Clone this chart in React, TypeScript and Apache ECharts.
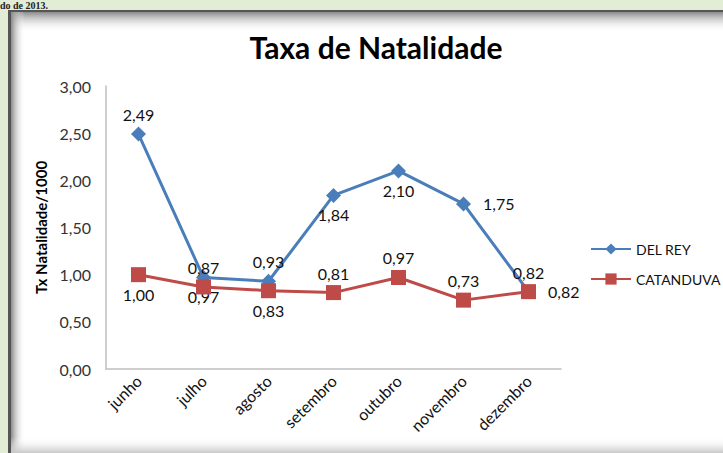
import React, { useEffect, useRef } from "react";
import * as echarts from "echarts";

const categories = ["junho", "julho", "agosto", "setembro", "outubro", "novembro", "dezembro"];
const delReyValues = [2.49, 0.97, 0.93, 1.84, 2.1, 1.75, 0.82];
const catanduvaValues = [1.0, 0.87, 0.83, 0.81, 0.97, 0.73, 0.82];
const yTicks = [0, 0.5, 1, 1.5, 2, 2.5, 3];

// label placement (style only)
const delReyLabelPos = ["top", "bottom", "top", "bottom", "bottom", "right", "top"];
const catanduvaLabelPos = ["bottom", "top", "bottom", "top", "top", "top", "right"];

const FONT = "Lato, 'Open Sans', sans-serif";
const fmt = (v: number) => v.toFixed(2).replace(".", ",");

export default function App() {
  const ref = useRef<HTMLDivElement>(null);
  useEffect(() => {
    if (!ref.current) return;
    const chart = echarts.init(ref.current, undefined, { renderer: "svg" });
    const W = 723, H = 453;
    const mkData = (vals: number[], pos: string[]) =>
      vals.map((v, i) => ({
        value: v,
        label: { position: pos[i], distance: pos[i] === "right" ? 12 : 4 },
      }));
    chart.setOption({
      animation: false,
      backgroundColor: "#e3ecd5",
      graphic: [
        { type: "text", left: 0, top: 0, z: -6, style: { text: "do de 2013.", fontSize: 10, fontWeight: "bold", fontFamily: "'Liberation Serif', serif", fill: "#222" } },
        { type: "rect", shape: { x: 8, y: 10, width: W - 8, height: H - 10 }, z: -5, style: { fill: "#555" } },
        { type: "rect", shape: { x: 11, y: 12, width: W - 11, height: H - 12 }, z: -5, style: { fill: "#fff" } },
        {
          type: "rect", shape: { x: 11, y: 12, width: W - 11, height: 20 }, z: -4,
          style: { fill: new echarts.graphic.LinearGradient(0, 0, 0, 1, [{ offset: 0, color: "#8a8a8a" }, { offset: 1, color: "rgba(255,255,255,0)" }]) },
        },
        {
          type: "rect", shape: { x: 11, y: 12, width: 14, height: H - 12 }, z: -4,
          style: { fill: new echarts.graphic.LinearGradient(0, 0, 1, 0, [{ offset: 0, color: "#8a8a8a" }, { offset: 1, color: "rgba(255,255,255,0)" }]) },
        },
        {
          type: "rect", shape: { x: 11, y: H - 16, width: W - 11, height: 16 }, z: -4,
          style: { fill: new echarts.graphic.LinearGradient(0, 0, 0, 1, [{ offset: 0, color: "rgba(255,255,255,0)" }, { offset: 1, color: "#c8c8c8" }]) },
        },
      ],
      title: {
        text: "Taxa de Natalidade",
        left: 371,
        textAlign: "center",
        top: 27,
        textStyle: { fontFamily: FONT, fontWeight: "bold", fontSize: 30, color: "#000" },
      },
      legend: {
        orient: "vertical",
        left: 585,
        top: 237,
        itemGap: 16,
        itemWidth: 40,
        itemHeight: 14,
        itemTextGap: 4,
        textStyle: { fontFamily: FONT, fontSize: 14, color: "#111" },
        data: ["DEL REY", "CATANDUVA"],
      },
      grid: { left: 106, right: 162, top: 86, bottom: 84, containLabel: false },
      xAxis: {
        type: "category",
        data: categories,
        boundaryGap: true,
        axisLine: { lineStyle: { color: "#bfbfbf", width: 1.5 } },
        axisTick: { show: false },
        axisLabel: { rotate: 45, fontFamily: FONT, fontSize: 16, color: "#111", margin: 9 },
      },
      yAxis: {
        type: "value",
        min: 0,
        max: 3,
        interval: 0.5,
        name: "Tx Natalidade/1000",
        nameLocation: "middle",
        nameGap: 57,
        nameTextStyle: { fontFamily: FONT, fontWeight: "bold", fontSize: 15, color: "#000" },
        axisLine: { show: true, lineStyle: { color: "#bfbfbf", width: 1.5 } },
        axisTick: { show: false },
        splitLine: { show: false },
        axisLabel: {
          fontFamily: FONT, fontSize: 16, color: "#333", margin: 15,
          formatter: (v: number) => (yTicks.includes(v) ? fmt(v) : ""),
        },
      },
      series: [
        {
          name: "DEL REY",
          type: "line",
          data: mkData(delReyValues, delReyLabelPos),
          symbol: "diamond",
          symbolSize: 15,
          itemStyle: { color: "#4a7ebb" },
          lineStyle: { color: "#4a7ebb", width: 3 },
          label: { show: true, fontFamily: FONT, fontSize: 16, color: "#111", formatter: (p: any) => fmt(p.value) },
          z: 3,
        },
        {
          name: "CATANDUVA",
          type: "line",
          data: mkData(catanduvaValues, catanduvaLabelPos),
          symbol: "rect",
          symbolSize: 15,
          itemStyle: { color: "#be4b48" },
          lineStyle: { color: "#be4b48", width: 3 },
          label: { show: true, fontFamily: FONT, fontSize: 16, color: "#111", formatter: (p: any) => fmt(p.value) },
          z: 4,
        },
      ],
    });
    return () => chart.dispose();
  }, []);
  return <div ref={ref} style={{ position: "absolute", left: 0, top: 0, width: 723, height: 453 }} />;
}
